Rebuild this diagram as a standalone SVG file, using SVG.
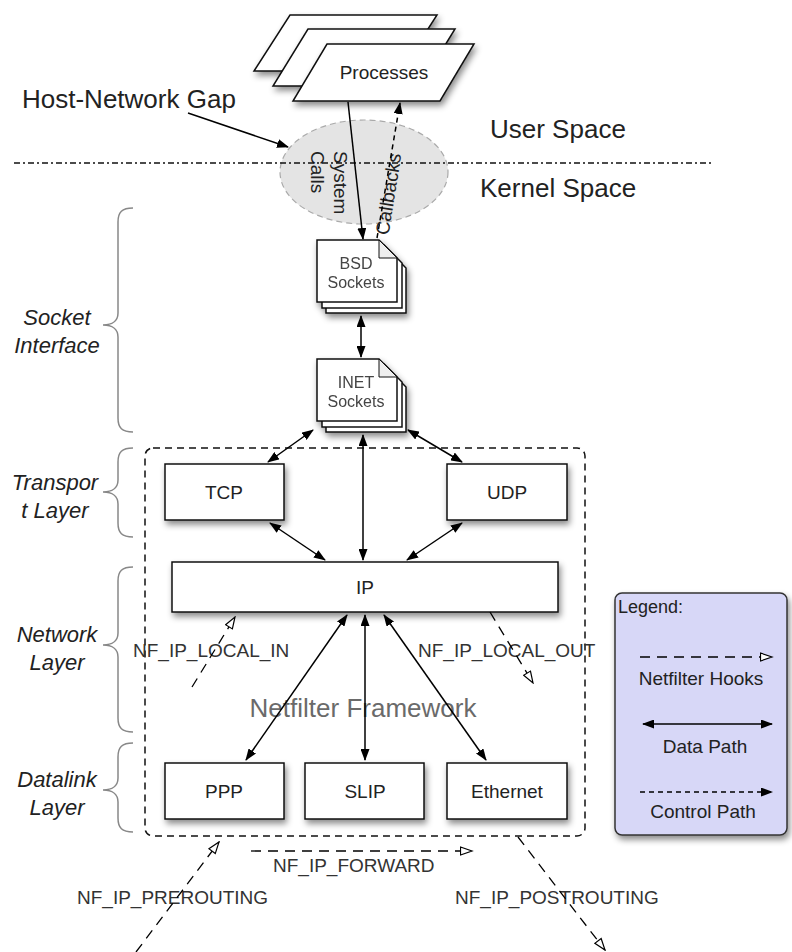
<svg xmlns="http://www.w3.org/2000/svg" width="792" height="952" viewBox="0 0 792 952">
<defs>
<filter id="sh" x="-20%" y="-20%" width="150%" height="160%"><feDropShadow dx="2" dy="4" stdDeviation="3" flood-color="#000" flood-opacity="0.45"/></filter>
<marker id="fa" viewBox="0 0 12 9" refX="11" refY="4.5" markerWidth="12" markerHeight="9" markerUnits="userSpaceOnUse" orient="auto-start-reverse"><path d="M0,0 L12,4.5 L0,9 z" fill="#000"/></marker>
<marker id="oa" viewBox="0 0 14 10" refX="12.5" refY="5" markerWidth="14" markerHeight="10" markerUnits="userSpaceOnUse" orient="auto"><path d="M1,1 L12.5,5 L1,9 z" fill="#fff" stroke="#000" stroke-width="1.2"/></marker>
</defs>
<style>
text{font-family:"Liberation Sans",Arial,sans-serif;fill:#222}
.box{fill:#fff;stroke:#111;stroke-width:1.5;filter:url(#sh)}
.page{fill:#fff;stroke:#111;stroke-width:1.5}
.flap{fill:#eee;stroke:#111;stroke-width:1}
.lbl{font-size:19px;text-anchor:middle}
.big{font-size:26px}
.lay{font-size:22px;font-style:italic;text-anchor:middle}
.hook{font-size:19px;fill:#333}
.brace{fill:none;stroke:#888;stroke-width:1.5}
.data{stroke:#000;stroke-width:1.5;fill:none;marker-start:url(#fa);marker-end:url(#fa)}
.one{stroke:#000;stroke-width:1.5;fill:none;marker-end:url(#fa)}
.ctrl{stroke:#000;stroke-width:1.5;fill:none;stroke-dasharray:5,4;marker-end:url(#fa)}
.hk{stroke:#000;stroke-width:1.3;fill:none;stroke-dasharray:10,7;marker-end:url(#oa)}
.doc{fill:#444;font-size:16px;text-anchor:middle}
</style>
<rect width="792" height="952" fill="#fff"/>

<g id="gap">
<ellipse cx="364" cy="172" rx="84" ry="52" fill="#e4e4e4" stroke="#aaa" stroke-width="1.2" stroke-dasharray="6,4"/>
<text transform="translate(334,151) rotate(90)" font-size="19" fill="#444">System</text>
<text transform="translate(311,151) rotate(90)" font-size="19" fill="#444">Calls</text>
<text transform="translate(388,194) rotate(-81)" x="0" y="7" font-size="19" fill="#444" text-anchor="middle">Callbacks</text>
</g>
<line x1="14" y1="163" x2="713" y2="163" stroke="#111" stroke-width="1.5" stroke-dasharray="6,3,2,3"/>

<g id="labels">
<text class="big" x="22" y="108">Host-Network Gap</text>
<text class="big" x="490" y="138">User Space</text>
<text class="big" x="480" y="197">Kernel Space</text>
</g>

<g id="processes">
<polygon points="290,15 437,15 401,71 254,71" class="box"/>
<polygon points="308,29 455,29 420,86 273,86" class="box"/>
<polygon points="327,44 474,44 440,101 293,101" class="box"/>
<text class="lbl" x="384" y="79">Processes</text>
</g>

<g id="bsd" filter="url(#sh)">
<path class="page" d="M326,250 H388 L406,268 V313 H326 Z"/>
<path class="page" d="M322,245 H384 L402,263 V308 H322 Z"/>
<path class="page" d="M317,240 H379 L397,258 V302 H317 Z"/>
<path class="flap" d="M379,240 V258 H397 Z"/>
<text class="doc" x="356" y="269">BSD</text>
<text class="doc" x="356" y="288">Sockets</text>
</g>

<g id="inet" filter="url(#sh)">
<path class="page" d="M326,369 H388 L406,387 V432 H326 Z"/>
<path class="page" d="M322,364 H384 L402,382 V427 H322 Z"/>
<path class="page" d="M317,359 H379 L397,377 V421 H317 Z"/>
<path class="flap" d="M379,359 V377 H397 Z"/>
<text class="doc" x="356" y="388">INET</text>
<text class="doc" x="356" y="407">Sockets</text>
</g>

<g id="netfilter">
<rect x="145" y="448" width="440" height="388" rx="8" fill="none" stroke="#111" stroke-width="1.5" stroke-dasharray="7,5"/>
<text x="363" y="717" font-size="26" fill="#6a6a6a" text-anchor="middle" style="fill:#6a6a6a">Netfilter Framework</text>
</g>

<g id="tcp"><rect class="box" x="165" y="464" width="119" height="56"/><text class="lbl" x="224" y="499">TCP</text></g>
<g id="udp"><rect class="box" x="447" y="464" width="120" height="56"/><text class="lbl" x="507" y="499">UDP</text></g>
<g id="ip"><rect class="box" x="172" y="562" width="386" height="50"/><text class="lbl" x="365" y="594">IP</text></g>
<g id="ppp"><rect class="box" x="165" y="763" width="119" height="56"/><text class="lbl" x="224" y="798">PPP</text></g>
<g id="slip"><rect class="box" x="305" y="763" width="119" height="56"/><text class="lbl" x="365" y="798">SLIP</text></g>
<g id="ethernet"><rect class="box" x="447" y="763" width="120" height="56"/><text class="lbl" x="507" y="798">Ethernet</text></g>

<g id="layers">
<path class="brace" d="M133,208 C122,208 118,212 118,222 L118,313 C118,321 112,325 103,325 C112,325 118,329 118,337 L118,418 C118,428 122,432 133,432"/>
<text class="lay" x="57" y="325">Socket</text><text class="lay" x="57" y="353">Interface</text>
<path class="brace" d="M133,448 C122,448 118,452 118,462 L118,480 C118,488 112,492 103,492 C112,492 118,496 118,504 L118,523 C118,533 122,537 133,537"/>
<text class="lay" x="55" y="490">Transpor</text><text class="lay" x="55" y="518">t Layer</text>
<path class="brace" d="M133,567 C122,567 118,571 118,581 L118,633 C118,641 112,645 103,645 C112,645 118,649 118,657 L118,718 C118,728 122,732 133,732"/>
<text class="lay" x="57" y="642">Network</text><text class="lay" x="57" y="670">Layer</text>
<path class="brace" d="M133,743 C122,743 118,747 118,757 L118,778 C118,786 112,790 103,790 C112,790 118,794 118,802 L118,818 C118,828 122,832 133,832"/>
<text class="lay" x="57" y="787">Datalink</text><text class="lay" x="57" y="815">Layer</text>
</g>

<g id="hooklabels">
<text class="hook" x="133" y="657">NF_IP_LOCAL_IN</text>
<text class="hook" x="418" y="657">NF_IP_LOCAL_OUT</text>
<text class="hook" x="273" y="872">NF_IP_FORWARD</text>
<text class="hook" x="77" y="904">NF_IP_PREROUTING</text>
<text class="hook" x="455" y="904">NF_IP_POSTROUTING</text>
</g>

<g id="connectors">
<line class="one" x1="188" y1="113" x2="288" y2="147"/>
<line class="one" x1="348" y1="102" x2="363" y2="239"/>
<line class="ctrl" x1="377" y1="238" x2="400" y2="103"/>
<line class="data" x1="361" y1="316" x2="361" y2="357"/>
<line class="data" x1="313" y1="430" x2="268" y2="462"/>
<line class="data" x1="408" y1="430" x2="462" y2="462"/>
<line class="data" x1="363" y1="435" x2="363" y2="560"/>
<line class="data" x1="270" y1="523" x2="325" y2="560"/>
<line class="data" x1="462" y1="523" x2="407" y2="560"/>
<line class="data" x1="347" y1="615" x2="246" y2="760"/>
<line class="data" x1="365" y1="615" x2="365" y2="760"/>
<line class="data" x1="384" y1="615" x2="486" y2="760"/>
<line class="hk" x1="192" y1="687" x2="235" y2="617"/>
<line class="hk" x1="490" y1="612" x2="533" y2="683"/>
<line class="hk" x1="136" y1="952" x2="219" y2="842"/>
<line class="hk" x1="251" y1="851" x2="472" y2="851"/>
<line class="hk" x1="518" y1="837" x2="605" y2="950"/>
</g>

<g id="legend">
<rect x="615" y="593" width="172" height="242" rx="7" fill="#d7d7f7" stroke="#333" stroke-width="1.5" filter="url(#sh)"/>
<text x="618" y="613" font-size="18">Legend:</text>
<line class="hk" x1="640" y1="657" x2="772" y2="657"/>
<text class="lbl" x="701" y="685">Netfilter Hooks</text>
<line class="data" x1="643" y1="724" x2="772" y2="724"/>
<text class="lbl" x="705" y="753">Data Path</text>
<line class="ctrl" x1="640" y1="792" x2="772" y2="792"/>
<text class="lbl" x="703" y="818">Control Path</text>
</g>
</svg>
